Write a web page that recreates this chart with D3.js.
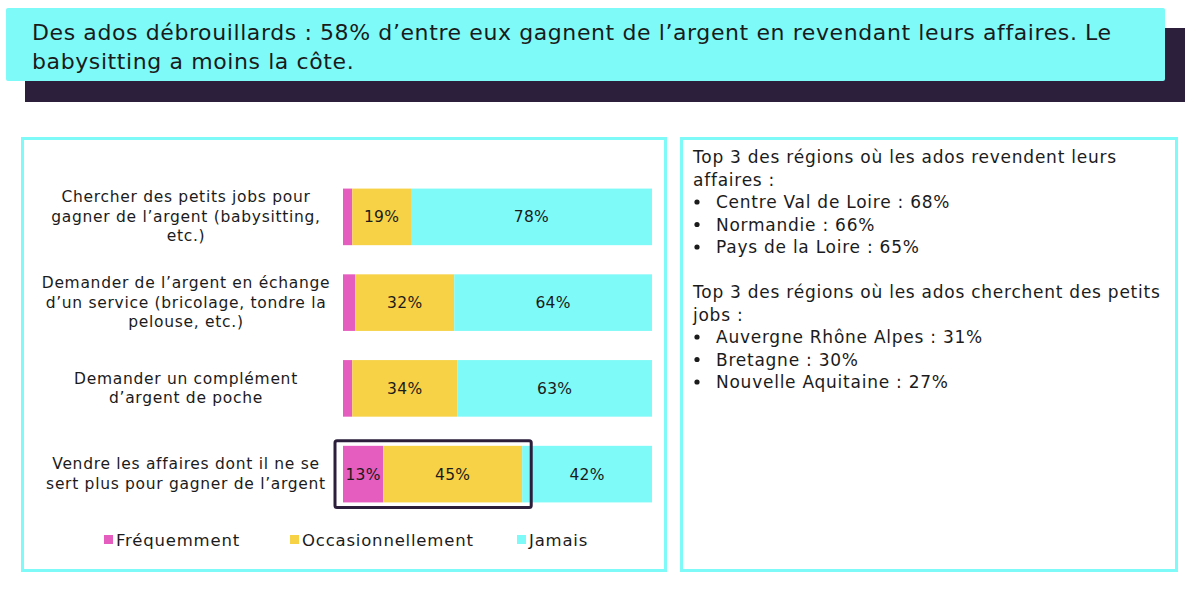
<!DOCTYPE html>
<html><head><meta charset="utf-8">
<script src="https://cdn.jsdelivr.net/npm/d3@7"></script>
<style>
html,body{margin:0;padding:0;background:#fff;}
svg{display:block;font-family:"DejaVu Sans",sans-serif;}
</style></head>
<body><svg id="c" width="1200" height="595"></svg>
<script>
const titleLines = ["Des ados débrouillards : 58% d’entre eux gagnent de l’argent en revendant leurs affaires. Le", "babysitting a moins la côte."];
const categories = [
  ["Chercher des petits jobs pour", "gagner de l’argent (babysitting,", "etc.)"],
  ["Demander de l’argent en échange", "d’un service (bricolage, tondre la", "pelouse, etc.)"],
  ["Demander un complément", "d’argent de poche"],
  ["Vendre les affaires dont il ne se", "sert plus pour gagner de l’argent"]
];
const seriesNames = ["Fréquemment", "Occasionnellement", "Jamais"];
const frequemment = [3, 4, 3, 13];
const occasionnellement = [19, 32, 34, 45];
const jamais = [78, 64, 63, 42];
const showLabel = [[false,true,true],[false,true,true],[false,true,true],[true,true,true]];
const sideText = [
  {t:"Top 3 des régions où les ados revendent leurs", b:false},
  {t:"affaires :", b:false},
  {t:"Centre Val de Loire : 68%", b:true},
  {t:"Normandie : 66%", b:true},
  {t:"Pays de la Loire : 65%", b:true},
  {t:"", b:false},
  {t:"Top 3 des régions où les ados cherchent des petits", b:false},
  {t:"jobs :", b:false},
  {t:"Auvergne Rhône Alpes : 31%", b:true},
  {t:"Bretagne : 30%", b:true},
  {t:"Nouvelle Aquitaine : 27%", b:true}
];

const colors = ["#E55DBF", "#F7D247", "#7EFAF8"];
const cyan = "#7EFAF8", dark = "#2C1F3C", ink = "#1b1b1b";
const svg = d3.select("#c");

// title block
svg.append("rect").attr("x",25).attr("y",28).attr("width",1160).attr("height",74).attr("fill",dark);
svg.append("rect").attr("x",6).attr("y",8).attr("width",1159).attr("height",73).attr("fill",cyan).attr("rx",2);
svg.append("text").attr("x",32).attr("y",40).attr("font-size",22).attr("letter-spacing",0.6).attr("fill",ink)
  .selectAll("tspan").data(titleLines).join("tspan").attr("x",32).attr("dy",(d,i)=>i?29:0).text(d=>d);

// panels
svg.append("rect").attr("x",22.5).attr("y",138.5).attr("width",643).attr("height",432).attr("fill","none").attr("stroke",cyan).attr("stroke-width",3);
svg.append("rect").attr("x",681.5).attr("y",138.5).attr("width",495).attr("height",432).attr("fill","none").attr("stroke",cyan).attr("stroke-width",3);

// bar chart
const data = categories.map((c,i)=>({i, c, v:[frequemment[i], occasionnellement[i], jamais[i]]}));
const x = d3.scaleLinear().domain([0,100]).range([343,652]);
const y = d3.scaleBand().domain(d3.range(categories.length)).range([174,517]).paddingInner(0.34).paddingOuter(0.17);
const stack = d3.stack().keys([0,1,2]).value((d,k)=>d.v[k]);
const layers = stack(data);
const g = svg.append("g");
layers.forEach((layer,k)=>{
  g.selectAll(null).data(layer).join("rect")
    .attr("x",d=>x(d[0])).attr("width",d=>x(d[1])-x(d[0]))
    .attr("y",(d,i)=>y(i)).attr("height",y.bandwidth()).attr("fill",colors[k]);
  g.selectAll(null).data(layer.filter((d,i)=>showLabel[i][k])).join("text")
    .attr("x",d=>(x(d[0])+x(d[1]))/2).attr("y",d=>y(d.data.i)+y.bandwidth()/2+5.5)
    .attr("text-anchor","middle").attr("font-size",15.5).attr("letter-spacing",0.3).attr("fill",ink)
    .text(d=>d.data.v[k]+"%");
});
// category labels
data.forEach(d=>{
  const n = d.c.length, lh = 19.5;
  const cy = y(d.i)+y.bandwidth()/2;
  svg.append("text").attr("text-anchor","middle").attr("font-size",15.5).attr("letter-spacing",0.7).attr("fill",ink)
    .selectAll("tspan").data(d.c).join("tspan")
    .attr("x",186).attr("y",(t,j)=>cy + (j-(n-1)/2)*lh + 5).text(t=>t);
});
// highlight box
const hi = 3;
svg.append("rect").attr("x",x(0)-8).attr("y",y(hi)-5)
  .attr("width",x(frequemment[hi]+occasionnellement[hi])-x(0)+17).attr("height",y.bandwidth()+10)
  .attr("fill","none").attr("stroke",dark).attr("stroke-width",3).attr("rx",2);

// legend
const legX = [104, 290, 517];
seriesNames.forEach((s,k)=>{
  svg.append("rect").attr("x",legX[k]).attr("y",535).attr("width",9).attr("height",9).attr("fill",colors[k]);
  svg.append("text").attr("x",legX[k]+12).attr("y",546).attr("font-size",16.5).attr("letter-spacing",0.8).attr("fill",ink).text(s);
});

// side text
const st = svg.append("g");
sideText.forEach((d,i)=>{
  const yy = 163 + i*22.5;
  if(!d.t) return;
  if(d.b){
    st.append("circle").attr("cx",697).attr("cy",yy-6).attr("r",2.6).attr("fill",ink);
    st.append("text").attr("x",716).attr("y",yy).attr("font-size",17).attr("letter-spacing",0.75).attr("fill",ink).text(d.t);
  } else {
    st.append("text").attr("x",693).attr("y",yy).attr("font-size",17).attr("letter-spacing",0.75).attr("fill",ink).text(d.t);
  }
});
</script></body></html>
